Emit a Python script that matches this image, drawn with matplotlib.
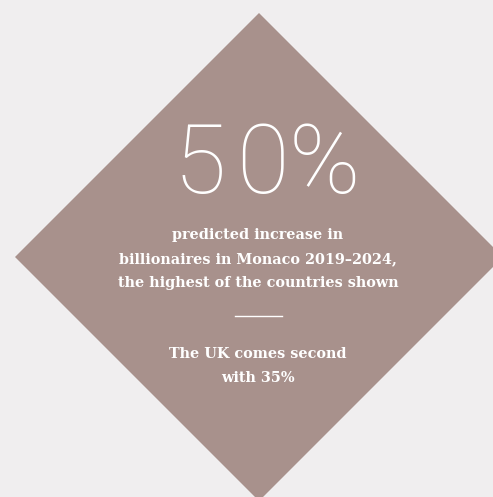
import matplotlib.pyplot as plt
from matplotlib.patches import Polygon

# figures shown in the graphic
headline_value = 50
country = 'Monaco'
years = ('2019', '2024')
second_country = 'UK'
second_value = 35

bg = '#f0eeef'
diamond_col = '#a8918c'

fig = plt.figure(figsize=(4.93, 4.97), dpi=100)
fig.patch.set_facecolor(bg)
ax = fig.add_axes([0, 0, 1, 1])
ax.set_xlim(0, 493)
ax.set_ylim(497, 0)
ax.axis('off')

# diamond
cx, cy, r = 259, 257, 244
ax.add_patch(Polygon([(cx, cy - r), (cx + r, cy), (cx, cy + r), (cx - r, cy)],
                     closed=True, color=diamond_col, lw=0))

# headline figure, spaced like a monospaced face
big = f'{headline_value}%'
pitch = 62
x0 = 262 - pitch * (len(big) - 1) / 2
for i, ch in enumerate(big):
    ax.text(x0 + i * pitch, 167, ch, ha='center', va='center', color='white',
            fontsize=69, family='Roboto', fontweight=100)

body = dict(ha='center', va='center', color='white', fontsize=10.4,
            family='DejaVu Serif', fontweight='bold')
lines = ['predicted increase in',
         f'billionaires in {country} {years[0]}\u2013{years[1]},',
         'the highest of the countries shown']
for i, s in enumerate(lines):
    ax.text(258, 235 + i * 24, s, **body)

ax.plot([235, 282], [316, 316], color='white', lw=1)

ax.text(258, 354, f'The {second_country} comes second', **body)
ax.text(258, 378, f'with {second_value}%', **body)

fig.savefig('out.png', dpi=100, facecolor=bg)
